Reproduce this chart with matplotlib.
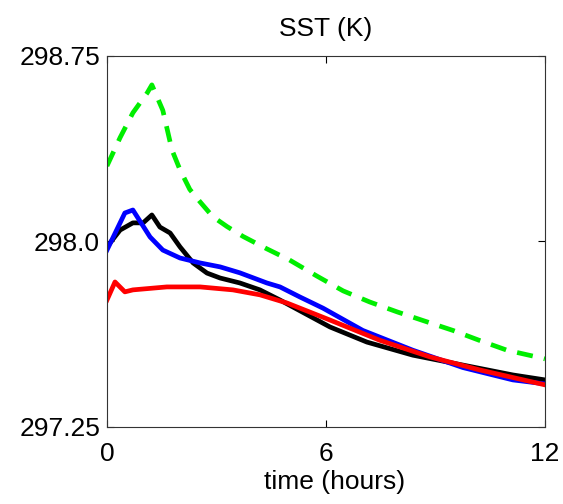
import numpy as np
import matplotlib.pyplot as plt

plt.rcParams['font.family'] = ['Liberation Sans', 'DejaVu Sans']

# SST (K) vs time (hours)
t_green = [0, 0.36, 0.71, 1.1, 1.23, 1.53, 1.78, 2.0, 2.27, 2.55, 2.9, 3.29, 3.73,
           4.38, 5.0, 5.75, 6.47, 7.2, 7.95, 8.66, 9.48, 10.2, 10.96, 11.86, 12]
sst_green = [298.305, 298.42, 298.52, 298.60, 298.633, 298.53, 298.37, 298.29, 298.21,
             298.16, 298.10, 298.06, 298.02, 297.97, 297.925, 297.86, 297.80, 297.755,
             297.715, 297.68, 297.64, 297.60, 297.56, 297.53, 297.525]

t_blue = [0, 0.49, 0.71, 1.18, 1.53, 2.0, 2.55, 3.1, 3.64, 4.38, 4.74, 5.29, 5.92,
          7.01, 8.38, 9.75, 11.12, 12]
sst_blue = [297.965, 298.115, 298.127, 298.018, 297.965, 297.933, 297.913, 297.897,
            297.873, 297.832, 297.816, 297.775, 297.73, 297.64, 297.56, 297.49,
            297.44, 297.424]

t_black = [0, 0.36, 0.71, 0.99, 1.23, 1.45, 1.73, 2.0, 2.36, 2.74, 3.1, 3.64, 4.19,
           4.74, 6.11, 7.12, 8.38, 9.75, 11.12, 12]
sst_black = [297.978, 298.046, 298.075, 298.075, 298.107, 298.058, 298.034, 297.978,
             297.913, 297.872, 297.852, 297.832, 297.804, 297.763, 297.654, 297.593,
             297.54, 297.50, 297.46, 297.44]

t_red = [0, 0.22, 0.49, 0.71, 1.64, 2.55, 3.45, 4.19, 4.93, 6.11, 7.48, 8.85, 10.22, 12]
sst_red = [297.763, 297.836, 297.796, 297.804, 297.816, 297.816, 297.804, 297.784,
           297.751, 297.682, 297.60, 297.533, 297.48, 297.42]

fig = plt.figure(figsize=(5.63, 5.04), dpi=100)
ax = fig.add_axes([0.19, 0.153, 0.778, 0.736])

ax.plot(t_green, sst_green, color='#00ee00', lw=3.4, dashes=(3.4, 2.4))
ax.plot(t_black, sst_black, color='black', lw=3.4)
ax.plot(t_blue, sst_blue, color='blue', lw=3.4)
ax.plot(t_red, sst_red, color='red', lw=3.4)

ax.set_xlim(0, 12)
ax.set_ylim(297.25, 298.75)
ax.set_xticks([0, 6, 12])
ax.set_yticks([297.25, 298.0, 298.75])
ax.set_yticklabels(['297.25', '298.0', '298.75'])
ax.tick_params(direction='in', top=True, right=True, labelsize=19, length=5)
ax.tick_params(axis='y', pad=5)
ax.tick_params(axis='x', pad=11)
for s in ax.spines.values():
    s.set_color('#333333')

ax.set_title('SST (K)', fontsize=19, pad=14)
ax.set_xlabel('time (hours)', fontsize=19)
ax.xaxis.set_label_coords(0.52, -0.115)

fig.savefig('out.png', dpi=100)
